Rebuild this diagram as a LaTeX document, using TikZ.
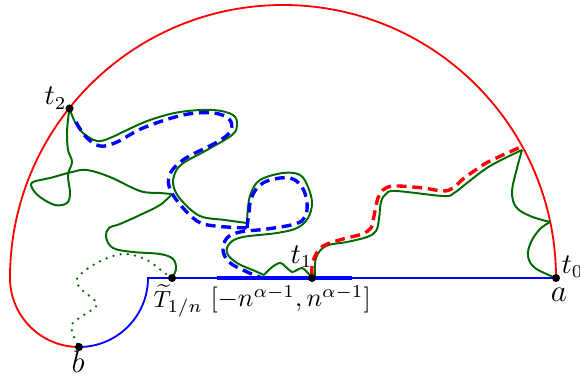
\documentclass[tikz,border=0pt]{standalone}
\usepackage{amsmath}
\definecolor{sgreen}{RGB}{0,105,0}
\tikzset{
  bdry/.style={line width=0.7pt},
  sle/.style={draw=sgreen, line width=0.75pt},
  bdash/.style={draw=blue, line width=1.3pt, dash pattern=on 3.8pt off 2.2pt},
  rdash/.style={draw=red, line width=1.3pt, dash pattern=on 3.8pt off 2.2pt},
  dotsle/.style={draw=sgreen, line width=1pt, line cap=round, dash pattern=on 0pt off 2.8pt},
  pt/.style={circle, fill=black, inner sep=0pt, minimum size=3.1pt},
  lab/.style={inner sep=0pt, anchor=base, font=\fontsize{10.5}{12}\selectfont},
  biglab/.style={inner sep=0pt, anchor=base, font=\fontsize{12}{14}\selectfont},
  midlab/.style={inner sep=0pt, font=\fontsize{10}{12}\selectfont},
  smalllab/.style={inner sep=0pt, font=\fontsize{9.5}{11}\selectfont}
}
\begin{document}
\begin{tikzpicture}[x=0.3846pt,y=-0.3846pt]
\useasboundingbox (0,0) rectangle (580,383);
% key points
\coordinate (A) at (556,278);
\coordinate (B) at (79,347);
\coordinate (T1) at (312,278);
\coordinate (T2) at (69.5,108.5);
\coordinate (TT) at (172,278);
% boundary
\draw[red,bdry] (A) arc[start angle=0,end angle=-180,radius=273]
      arc[start angle=180,end angle=90,radius=69];
\draw[blue,bdry] (B) arc[start angle=90,end angle=0,radius=69] -- (A);
\draw[blue,line width=1.7pt] (217,278) -- (352,278);
% dotted curve
\draw[dotsle] plot[smooth,tension=0.6] coordinates {(TT) (162,271) (147,260) (127,254) (110,257) (90,267) (77,279) (81,289) (97,304) (84,315) (72,324) (74,337) (B)};
% green curves, right part
\draw[sle] plot[smooth,tension=0.6] coordinates {(315,278) (316,258) (326,246) (347,242) (367,237) (376,231) (379,219) (381,202) (386,194) (396,191) (443,196) (454,193) (467,183) (490,166) (522,150)};
\draw[sle] plot[smooth,tension=0.6] coordinates {(522,150) (516,172) (512,192) (516,207) (530,216) (550,222)};
\draw[sle] plot[smooth,tension=0.6] coordinates {(550,222) (540,229) (531,242) (528,256) (535,268) (A)};
\draw[rdash] plot[smooth,tension=0.6] coordinates {(312,276) (312,266) (315,256) (323,246) (343,239) (362,234) (371,228) (373,221) (375,211) (378,198) (383,190) (394,186) (423,188) (443,191) (453,188) (463,179) (477,169) (490,161) (523,146)};
% green curves, left part
\draw[sle] plot[smooth,tension=0.6] coordinates {(TT) (176,269) (173,259) (160,254) (133,252) (113,248) (106,237) (109,228) (120,224) (140,215) (160,205) (172,194)};
\draw[sle] plot[smooth,tension=0.6] coordinates {(172,194) (160,193) (140,191) (110,177) (87,170) (72,172) (50,178) (33,182) (32,188) (40,197) (55,205) (67,203) (70,193) (68,175) (72,162) (68,150) (67,133) (68,120) (T2)};
\draw[sle] plot[smooth,tension=0.6] coordinates {(T2) (75,122) (83,133) (97,141) (110,138) (127,130) (150,120) (180,112) (213,110) (233,115) (237,125) (232,135) (207,150) (182,164) (174,176) (174,188) (182,201) (200,216) (225,220) (247,223)};
\draw[sle] plot[smooth,tension=0.6] coordinates {(247,223) (248,207) (251,193) (260,180) (283,173) (300,175) (308,187) (312,203) (308,218) (297,228) (277,233) (243,237) (230,243) (227,253) (237,263) (255,271) (264,275)};
\draw[sle] plot[smooth,tension=0.6] coordinates {(264,275) (271,268) (280,263) (287,268) (292,272) (297,270) (302,268) (307,272) (T1)};
% blue dashed
\draw[bdash] plot[smooth,tension=0.6] coordinates {(76,122) (86,137) (100,146) (117,142) (143,128) (183,115) (213,113) (229,119) (231,130) (219,141) (186,158) (171,172) (169,186) (178,202) (197,221) (215,226) (247,228)};
\draw[bdash] plot[smooth,tension=0.6] coordinates {(247,228) (249,212) (251,199) (258,187) (270,180) (290,178) (302,187) (307,203) (305,217) (295,224) (267,229) (240,232) (227,238) (223,250) (229,262) (245,271) (262,278)};
% points
\node[pt] (a) at (A) {};
\node[pt] (b) at (B) {};
\node[pt] (t1) at (T1) {};
\node[pt] (t2) at (T2) {};
\node[pt] (tt) at (TT) {};
% labels
\node[lab, anchor=base east] (lt2) at (67,105) {$t_2$};
\node[lab, anchor=base east] (lt1) at (313,263) {$t_1$};
\node[lab, anchor=base west] (lt0) at (561,273) {$t_0$};
\node[biglab] (la) at (559,301.5) {$a$};
\node[biglab] (lb) at (78,372) {$b$};
\node[smalllab, anchor=base west] (ltt) at (153,307) {$\widetilde{T}_{1/n}$};
\node[midlab, anchor=base west] (lint) at (210,306.5) {$[-n^{\alpha-1},n^{\alpha-1}]$};
\end{tikzpicture}
\end{document}
